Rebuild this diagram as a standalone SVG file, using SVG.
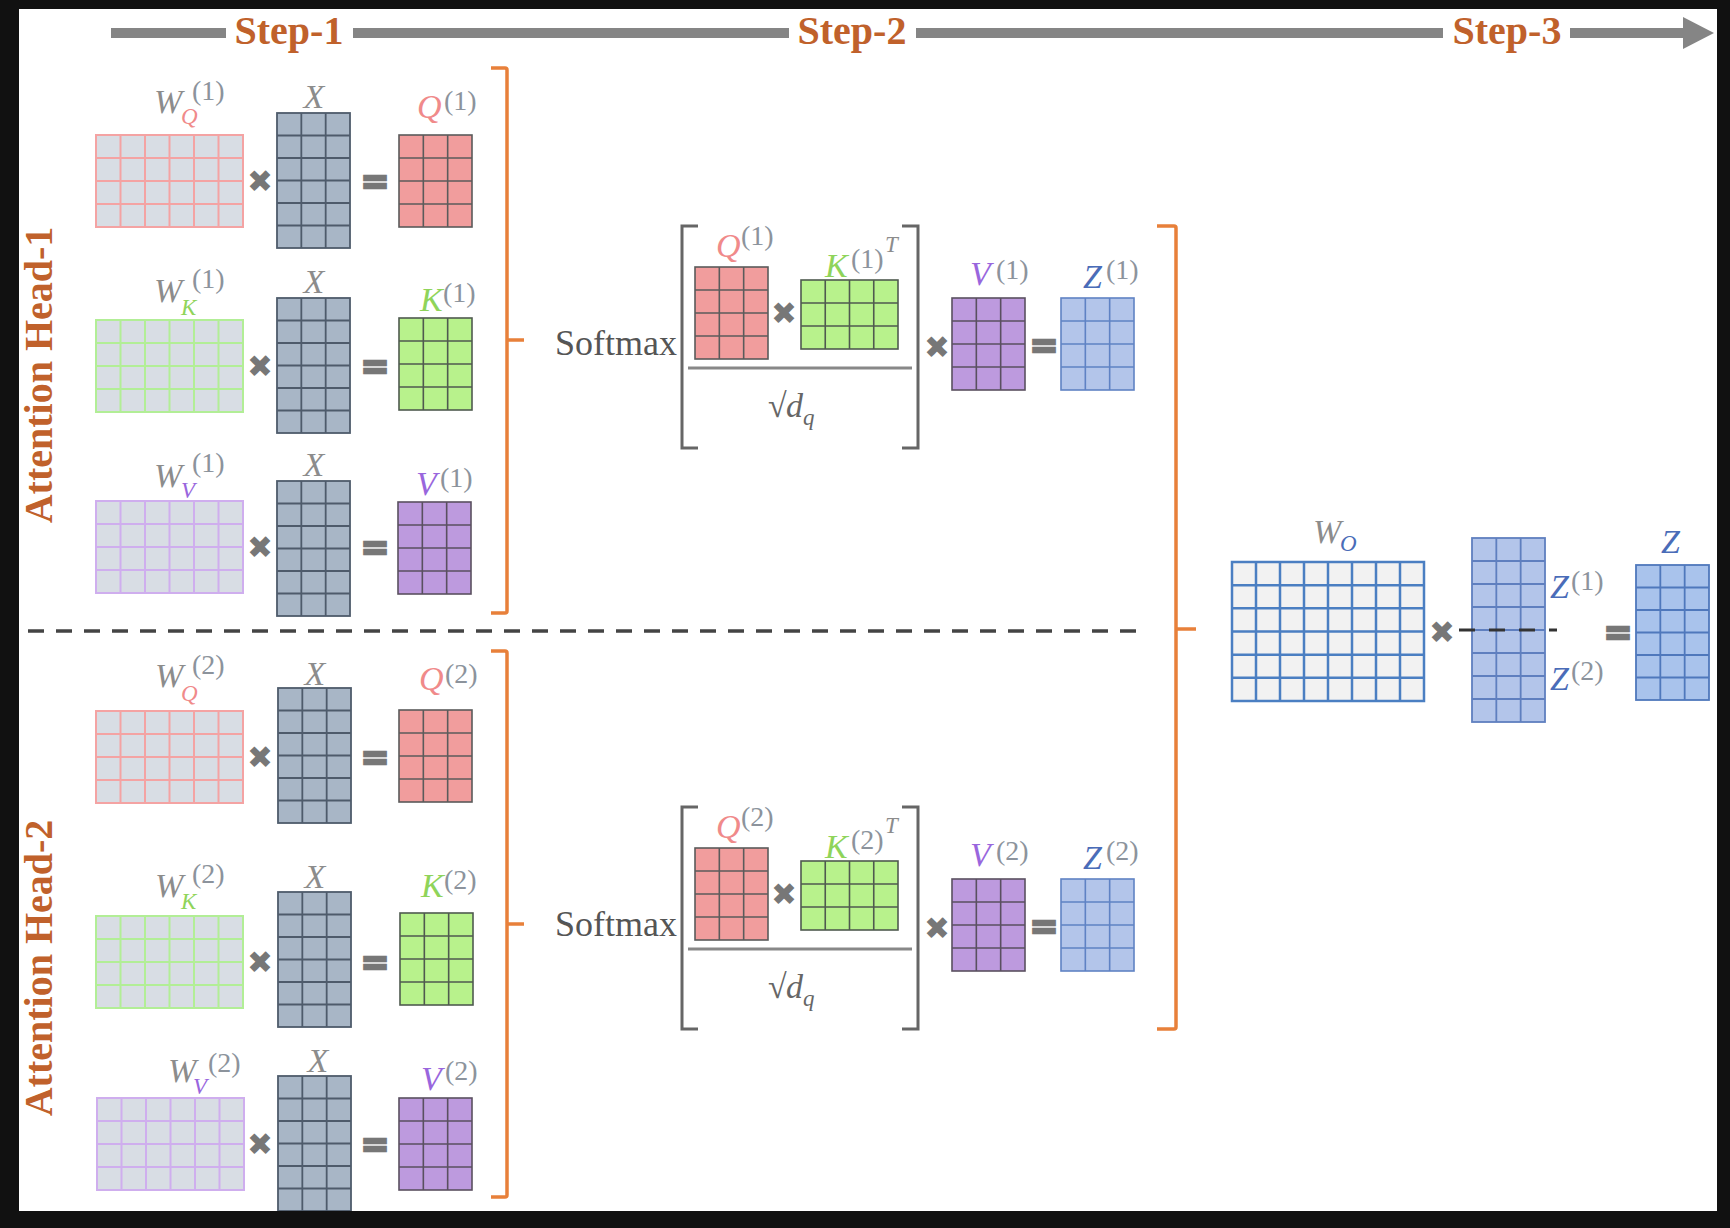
<svg xmlns="http://www.w3.org/2000/svg" width="1730" height="1228" viewBox="0 0 1730 1228">
<style>
.lab{font-family:"Liberation Serif",serif;font-style:italic;font-size:34px;fill:#8c8c8c}
.sup{font-family:"Liberation Serif",serif;font-size:28px;fill:#8c939c}
.sub{font-family:"Liberation Serif",serif;font-style:italic;font-size:23px}
.cq{fill:#f08a8a}.ck{fill:#8fd45a}.cv{fill:#9966dd}.cz{fill:#4a6cb8}
.xl{text-anchor:middle}
.op{font-family:"DejaVu Sans",sans-serif;font-size:31px;fill:#777;text-anchor:middle;dominant-baseline:central}
.eq{font-family:"DejaVu Sans",sans-serif;font-weight:bold;font-size:34px;fill:#777;stroke:#777;stroke-width:2.5;text-anchor:middle;dominant-baseline:central}
.step{font-family:"Liberation Serif",serif;font-weight:bold;font-size:40px;fill:#c0612b;text-anchor:middle}
.soft{font-family:"Liberation Serif",serif;font-size:36px;fill:#555}
.wq{fill:#d8dde4;stroke:#f4a3a3;stroke-width:2}
.wk{fill:#d8dde4;stroke:#b2ee96;stroke-width:2}
.wv{fill:#d8dde4;stroke:#cfaeee;stroke-width:2}
.mx{fill:#a8b6c6;stroke:#4e5b6b;stroke-width:1.8}
.mq{fill:#f19d9d;stroke:#5b5b5b;stroke-width:1.6}
.mk{fill:#b8f28c;stroke:#4f5a4f;stroke-width:1.6}
.mv{fill:#bd9ade;stroke:#5a5060;stroke-width:1.6}
.mz{fill:#b3c5ea;stroke:#5f82c4;stroke-width:1.6}
.mo{fill:#f2f2f2;stroke:#4b7fc2;stroke-width:2.5}
.mc{fill:#b3c5ea;stroke:#5f7fbf;stroke-width:1.8}
.mf{fill:#a9c3ec;stroke:#4f78bc;stroke-width:1.8}
.ob{fill:none;stroke:#e8803a;stroke-width:3.5;stroke-linejoin:round}
.gb{fill:none;stroke:#666;stroke-width:3}
</style>
<defs>
<g id="w6x4"><rect width="147" height="92"/><path fill="none" d="M24.5 0V92M49 0V92M73.5 0V92M98 0V92M122.5 0V92M0 23H147M0 46H147M0 69H147"/></g>
<g id="m3x6"><rect width="73" height="135"/><path fill="none" d="M24.33 0V135M48.67 0V135M0 22.5H73M0 45H73M0 67.5H73M0 90H73M0 112.5H73"/></g>
<g id="m3x4"><rect width="73" height="92"/><path fill="none" d="M24.33 0V92M48.67 0V92M0 23H73M0 46H73M0 69H73"/></g>
<g id="m4x3"><rect width="97" height="69"/><path fill="none" d="M24.25 0V69M48.5 0V69M72.75 0V69M0 23H97M0 46H97"/></g>
<g id="m8x6"><rect width="192" height="139"/><path fill="none" d="M24 0V139M48 0V139M72 0V139M96 0V139M120 0V139M144 0V139M168 0V139M0 23.17H192M0 46.33H192M0 69.5H192M0 92.67H192M0 115.83H192"/></g>
<g id="m3x8"><rect width="73" height="184"/><path fill="none" d="M24.33 0V184M48.67 0V184M0 23H73M0 46H73M0 69H73M0 92H73M0 115H73M0 138H73M0 161H73"/></g>
</defs>
<rect width="1730" height="1228" fill="#111"/>
<rect x="19" y="9" width="1698" height="1202" fill="#fff"/>

<g id="connectors">
<path d="M111 33H226M353 33H789M916 33H1443M1570 33H1683" stroke="#858585" stroke-width="10" fill="none"/>
<path d="M1683 17L1714 33L1683 49Z" fill="#858585"/>
<path class="ob" d="M491 68H505Q507 68 507 70V611Q507 613 505 613H491M507 340H524"/>
<path class="ob" d="M491 651H505Q507 651 507 653V1195Q507 1197 505 1197H491M507 924H524"/>
<path class="ob" d="M1157 226H1174Q1176 226 1176 228V1027Q1176 1029 1174 1029H1157M1176 629H1196"/>
<path d="M28 631H1147" stroke="#444" stroke-width="3.5" stroke-dasharray="16 12" fill="none"/>
<path class="gb" d="M698 226H682V448H698M902 226H918V448H902"/>
<path class="gb" d="M698 807H682V1029H698M902 807H918V1029H902"/>
<path d="M688 368H912M688 949H912" stroke="#888" stroke-width="3" fill="none"/>
</g>

<g id="steps">
<text class="step" x="289" y="44">Step-1</text>
<text class="step" x="852" y="44">Step-2</text>
<text class="step" x="1507" y="44">Step-3</text>
</g>
<g id="head-labels">
<text class="step" transform="translate(52,375) rotate(-90)">Attention  Head-1</text>
<text class="step" transform="translate(52,968) rotate(-90)">Attention  Head-2</text>
</g>

<!-- Head 1 step 1 -->
<g id="h1-q-row">
<use href="#w6x4" class="wq" x="96" y="135"/>
<text class="lab" x="154" y="113">W</text><text class="sub cq" x="181" y="124">Q</text><text class="sup" x="192" y="100">(1)</text>
<text class="op" x="260" y="181">✖</text>
<use href="#m3x6" class="mx" x="277" y="113"/>
<text class="lab xl" x="314" y="108">X</text>
<text class="eq" x="375" y="181">=</text>
<use href="#m3x4" class="mq" x="399" y="135"/>
<text class="lab cq" x="417" y="118">Q</text><text class="sup" x="444" y="110">(1)</text>
</g>
<g id="h1-k-row">
<use href="#w6x4" class="wk" x="96" y="320"/>
<text class="lab" x="154" y="302">W</text><text class="sub ck" x="181" y="315">K</text><text class="sup" x="192" y="288">(1)</text>
<text class="op" x="260" y="366">✖</text>
<use href="#m3x6" class="mx" x="277" y="298"/>
<text class="lab xl" x="314" y="293">X</text>
<text class="eq" x="375" y="366">=</text>
<use href="#m3x4" class="mk" x="399" y="318"/>
<text class="lab ck" x="420" y="311">K</text><text class="sup" x="443" y="302">(1)</text>
</g>
<g id="h1-v-row">
<use href="#w6x4" class="wv" x="96" y="501"/>
<text class="lab" x="154" y="487">W</text><text class="sub cv" x="181" y="498">V</text><text class="sup" x="192" y="472">(1)</text>
<text class="op" x="260" y="547">✖</text>
<use href="#m3x6" class="mx" x="277" y="481"/>
<text class="lab xl" x="314" y="476">X</text>
<text class="eq" x="375" y="547">=</text>
<use href="#m3x4" class="mv" x="398" y="502"/>
<text class="lab cv" x="416" y="495">V</text><text class="sup" x="440" y="487">(1)</text>
</g>

<!-- Head 2 step 1 -->
<g id="h2-q-row">
<use href="#w6x4" class="wq" x="96" y="711"/>
<text class="lab" x="155" y="687">W</text><text class="sub cq" x="181" y="701">Q</text><text class="sup" x="192" y="674">(2)</text>
<text class="op" x="260" y="757">✖</text>
<use href="#m3x6" class="mx" x="278" y="688"/>
<text class="lab xl" x="315" y="685">X</text>
<text class="eq" x="375" y="757">=</text>
<use href="#m3x4" class="mq" x="399" y="710"/>
<text class="lab cq" x="419" y="690">Q</text><text class="sup" x="445" y="683">(2)</text>
</g>
<g id="h2-k-row">
<use href="#w6x4" class="wk" x="96" y="916"/>
<text class="lab" x="155" y="897">W</text><text class="sub ck" x="181" y="909">K</text><text class="sup" x="192" y="883">(2)</text>
<text class="op" x="260" y="962">✖</text>
<use href="#m3x6" class="mx" x="278" y="892"/>
<text class="lab xl" x="315" y="888">X</text>
<text class="eq" x="375" y="962">=</text>
<use href="#m3x4" class="mk" x="400" y="913"/>
<text class="lab ck" x="421" y="897">K</text><text class="sup" x="444" y="889">(2)</text>
</g>
<g id="h2-v-row">
<use href="#w6x4" class="wv" x="97" y="1098"/>
<text class="lab" x="168" y="1082">W</text><text class="sub cv" x="193" y="1094">V</text><text class="sup" x="208" y="1072">(2)</text>
<text class="op" x="260" y="1144">✖</text>
<use href="#m3x6" class="mx" x="278" y="1076"/>
<text class="lab xl" x="318" y="1072">X</text>
<text class="eq" x="375" y="1144">=</text>
<use href="#m3x4" class="mv" x="399" y="1098"/>
<text class="lab cv" x="421" y="1090">V</text><text class="sup" x="445" y="1080">(2)</text>
</g>

<!-- Head 1 step 2 -->
<g id="h1-attn">
<text class="soft" x="555" y="355">Softmax</text>
<use href="#m3x4" class="mq" x="695" y="267"/>
<text class="lab cq" x="716" y="257">Q</text><text class="sup" x="741" y="245">(1)</text>
<text class="op" x="784" y="313">✖</text>
<use href="#m4x3" class="mk" x="801" y="280"/>
<text class="lab ck" x="825" y="277">K</text><text class="sup" x="851" y="268">(1)</text><text class="sub" fill="#8c8c8c" x="885" y="252">T</text>
<text class="lab" fill="#666" x="768" y="417" style="font-style:normal;fill:#666">√</text><text class="lab" x="786" y="417" style="fill:#666">d</text><text class="sub" fill="#666" x="803" y="425">q</text>
<text class="op" x="937" y="347">✖</text>
<use href="#m3x4" class="mv" x="952" y="298"/>
<text class="lab cv" x="970" y="285">V</text><text class="sup" x="996" y="279">(1)</text>
<text class="eq" x="1044" y="345">=</text>
<use href="#m3x4" class="mz" x="1061" y="298"/>
<text class="lab cz" x="1083" y="288">Z</text><text class="sup" x="1106" y="279">(1)</text>
</g>

<!-- Head 2 step 2 -->
<g id="h2-attn">
<text class="soft" x="555" y="936">Softmax</text>
<use href="#m3x4" class="mq" x="695" y="848"/>
<text class="lab cq" x="716" y="838">Q</text><text class="sup" x="741" y="826">(2)</text>
<text class="op" x="784" y="894">✖</text>
<use href="#m4x3" class="mk" x="801" y="861"/>
<text class="lab ck" x="825" y="858">K</text><text class="sup" x="851" y="849">(2)</text><text class="sub" fill="#8c8c8c" x="885" y="833">T</text>
<text class="lab" x="768" y="998" style="font-style:normal;fill:#666">√</text><text class="lab" x="786" y="998" style="fill:#666">d</text><text class="sub" fill="#666" x="803" y="1006">q</text>
<text class="op" x="937" y="928">✖</text>
<use href="#m3x4" class="mv" x="952" y="879"/>
<text class="lab cv" x="970" y="866">V</text><text class="sup" x="996" y="860">(2)</text>
<text class="eq" x="1044" y="926">=</text>
<use href="#m3x4" class="mz" x="1061" y="879"/>
<text class="lab cz" x="1083" y="869">Z</text><text class="sup" x="1106" y="860">(2)</text>
</g>

<!-- Step 3 -->
<g id="wo">
<use href="#m8x6" class="mo" x="1232" y="562"/>
<text class="lab" x="1313" y="543">W</text><text class="sub cz" x="1340" y="551">O</text>
</g>
<text class="op" x="1442" y="632">✖</text>
<g id="zcat">
<use href="#m3x8" class="mc" x="1472" y="538"/>
<path d="M1459 630H1557" stroke="#333" stroke-width="3" stroke-dasharray="16 14" fill="none"/>
<text class="lab cz" x="1550" y="598">Z</text><text class="sup" x="1571" y="590">(1)</text>
<text class="lab cz" x="1550" y="690">Z</text><text class="sup" x="1571" y="680">(2)</text>
</g>
<text class="eq" x="1618" y="632">=</text>
<g id="zout">
<use href="#m3x6" class="mf" x="1636" y="565"/>
<text class="lab cz" x="1661" y="553">Z</text>
</g>

<path d="M0 0H1730V1228H0ZM19 9V1211H1717V9Z" fill="#111" fill-rule="evenodd"/>
</svg>
